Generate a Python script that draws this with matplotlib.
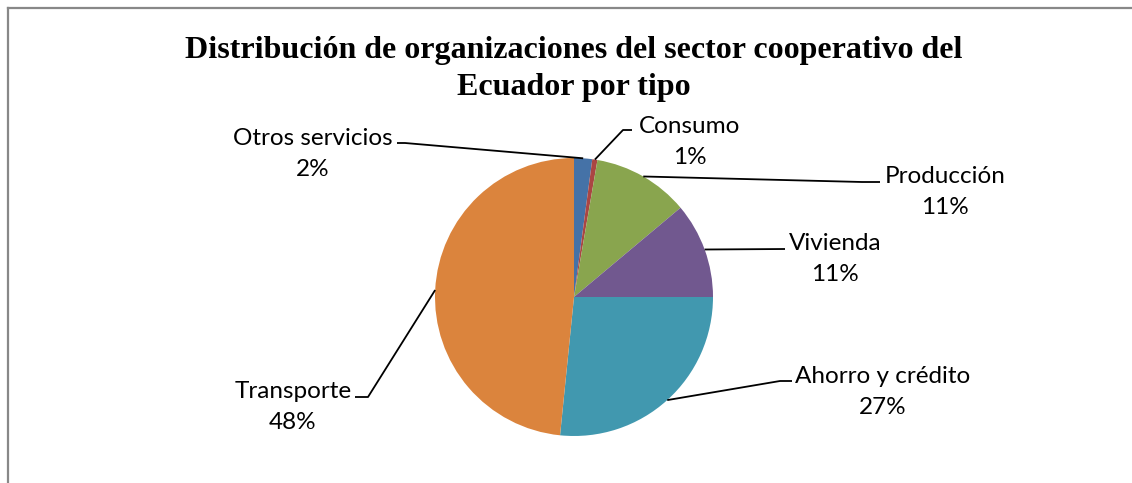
import numpy as np
import matplotlib
matplotlib.use('Agg')
from matplotlib import pyplot as plt
from matplotlib.lines import Line2D

# Datos del gráfico
categorias = ['Otros servicios', 'Consumo', 'Producción', 'Vivienda',
              'Ahorro y crédito', 'Transporte']
porcentajes = [2.1, 0.6, 11.2, 11.1, 26.6, 48.4]
colores = ['#4572A7', '#AA4643', '#89A54E', '#71588F', '#4198AF', '#DB843D']

titulo = 'Distribución de organizaciones del sector cooperativo del\nEcuador por tipo'

# Geometría en píxeles (y hacia abajo, se convierte después)
W, H = 1132, 483
centro = (574, 297)
radio = 139

# Posición de las etiquetas y codos de las líneas guía
etiquetas_pos = [(313, 154), (690, 142), (945, 192), (835, 259), (883, 392), (293, 407)]
codos = [[(405, 143), (397, 143)],
         [(623, 130), (632, 130)],
         [(862, 182), (880, 182)],
         [(785, 249)],
         [(780, 381), (792, 381)],
         [(368, 397), (355, 397)]]


def yflip(p):
    return (p[0], H - p[1])


fig = plt.figure(figsize=(W / 100, H / 100), dpi=100)
ax = fig.add_axes([0, 0, 1, 1])

cuñas, _ = ax.pie(porcentajes, colors=colores, startangle=90, counterclock=False,
                  center=yflip(centro), radius=radio, frame=True,
                  wedgeprops=dict(linewidth=0))
ax.set_xlim(0, W)
ax.set_ylim(0, H)
ax.set_aspect('equal')
ax.axis('off')

fuente = ['Lato', 'DejaVu Sans']
for cuña, nombre, valor, pos, codo in zip(cuñas, categorias, porcentajes, etiquetas_pos, codos):
    ang = np.deg2rad((cuña.theta1 + cuña.theta2) / 2)
    cx, cy = cuña.center
    ancla = (cx + radio * np.cos(ang), cy + radio * np.sin(ang))
    pts = [ancla] + [yflip(p) for p in codo]
    xs, ys = zip(*pts)
    ax.plot(xs, ys, color='black', lw=1.3, solid_capstyle='butt')
    px, py = yflip(pos)
    ax.text(px, py, f'{nombre}\n{round(valor)}%', ha='center', va='center',
            fontsize=17.5, family=fuente, linespacing=1.6, color='black')

ax.text(574, H - 69, titulo, ha='center', va='center', fontsize=23,
        family=['Liberation Serif', 'DejaVu Serif'], fontweight='bold',
        linespacing=1.32)

# Borde del área del gráfico
fig.add_artist(Line2D([8 / W, 1], [1 - 8 / H, 1 - 8 / H], color='#888888', lw=1.6,
                      transform=fig.transFigure))
fig.add_artist(Line2D([8 / W, 8 / W], [0, 1 - 8 / H], color='#888888', lw=1.6,
                      transform=fig.transFigure))

fig.savefig('out.png', dpi=100, facecolor='white')
